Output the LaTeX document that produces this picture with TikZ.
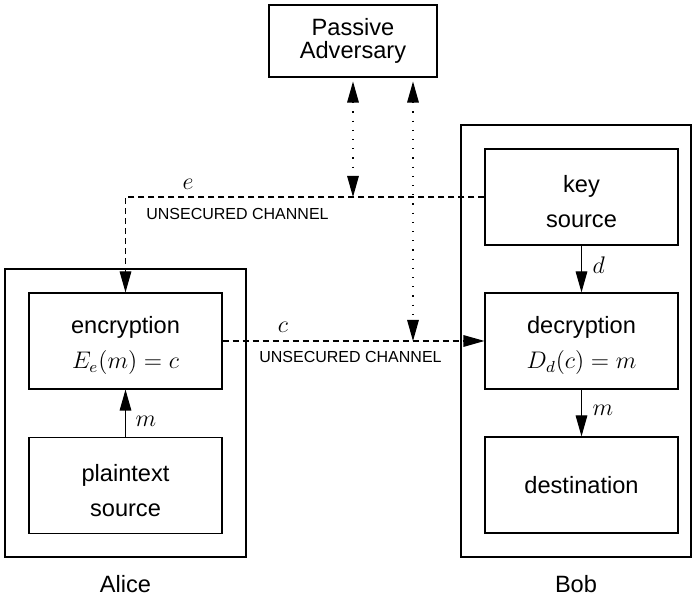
\documentclass[tikz,border=0pt]{standalone}
\usepackage{fontspec}
\setmainfont{Liberation Sans}
\usetikzlibrary{arrows.meta}
\newcommand{\upstrut}{\rule{0pt}{13.5pt}}
\begin{document}
\begin{tikzpicture}[x=0.5pt,y=-0.5pt, line width=0.55pt,
  >={Triangle[length=10.5pt,width=5.8pt]},
  box/.style={draw, minimum width=96.5pt, minimum height=48pt, inner sep=0pt, align=center,
    font=\fontsize{11.8}{17.5}\selectfont},
  outerbox/.style={draw, inner sep=0pt},
  chan/.style={dash pattern=on 3pt off 2pt},
  spy/.style={dash pattern=on 0.6pt off 4pt},
  lbl/.style={inner sep=0pt, font=\fontsize{12}{14}\selectfont},
  small/.style={inner sep=0pt, font=\fontsize{8}{10}\selectfont},
  who/.style={inner sep=0pt, font=\fontsize{11.8}{14}\selectfont}]
\useasboundingbox (0,0) rectangle (692,597);
% outer frames
\node[outerbox, minimum width=120.5pt, minimum height=144pt] (alice) at (125.5,413) {};
\node[outerbox, minimum width=115pt, minimum height=216pt] (bob) at (576,341) {};
% boxes
\node[box, minimum width=84pt, minimum height=36pt, font=\fontsize{11.8}{11.5}\selectfont] (adv) at (353,41) {Passive\\Adversary};
\node[box] (enc) at (125.5,341) {\upstrut encryption\\$E_e(m)=c$};
\node[box] (plain) at (125.5,485.5) {\upstrut plaintext\\source};
\node[box] (key) at (581.5,197) {\upstrut key\\source};
\node[box] (dec) at (581.5,341) {\upstrut decryption\\$D_d(c)=m$};
\node[box] (dest) at (581.5,485) {destination};
% names
\node[who, anchor=base] (aliceN) at (125.5,593) {Alice};
\node[who, anchor=base] (bobN) at (576,593) {Bob};
% connectors
\draw[->] (plain) -- (enc);
\draw[->] (key) -- (dec);
\draw[->] (dec) -- (dest);
\coordinate (ecorner) at (125.5,197);
\draw[->,chan] (key.west) -- (ecorner) -- (enc.north);
\draw[->,chan] (enc.east) -- (dec.west);
\coordinate (eA) at (353,197);
\coordinate (cA) at (413,341);
\draw[<->,spy,shorten <=2pt] (adv.south) -- (eA);
\draw[<->,spy,shorten <=2pt] (adv.south -| cA) -- (cA);
% labels
\node[lbl, anchor=base] (le) at (188,190) {$e$};
\node[lbl, anchor=base] (lc) at (283,333) {$c$};
\node[lbl, anchor=base west] (lm1) at (135,427) {$m$};
\node[lbl, anchor=base west] (ld) at (592,274) {$d$};
\node[lbl, anchor=base west] (lm2) at (592,416) {$m$};
\node[small] (u1) at (237.5,214.5) {UNSECURED CHANNEL};
\node[small] (u2) at (350.5,357) {UNSECURED CHANNEL};
\end{tikzpicture}
\end{document}
